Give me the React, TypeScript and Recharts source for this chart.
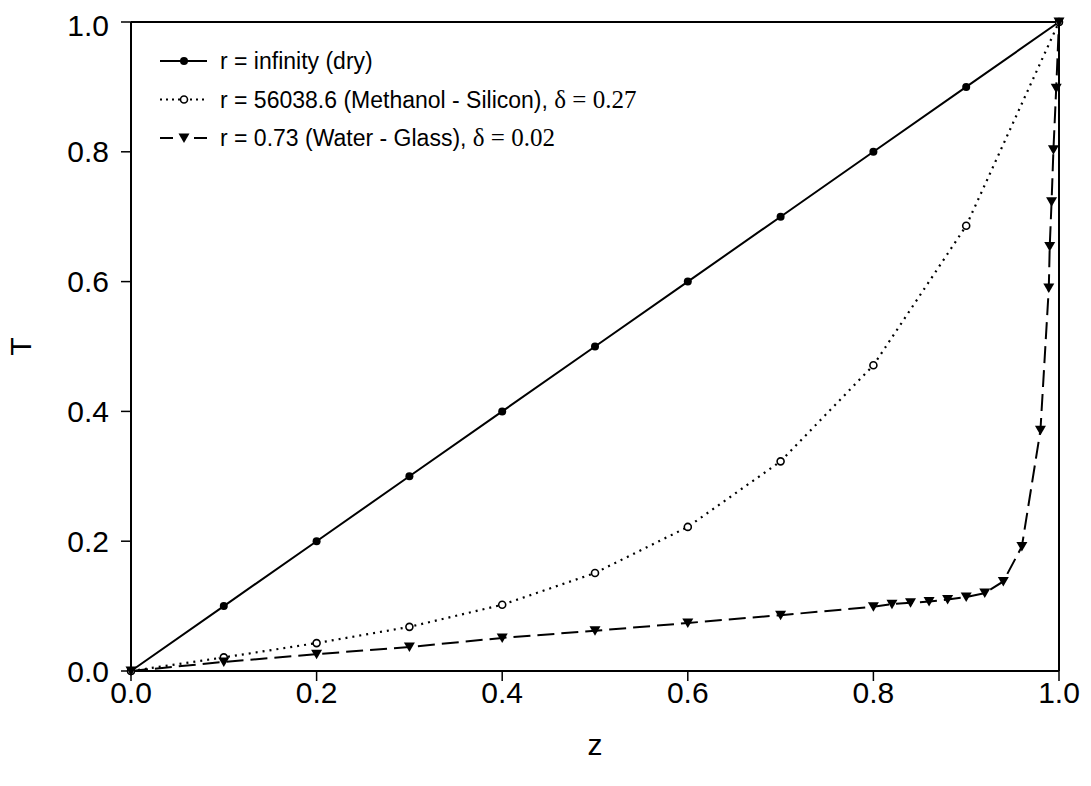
import React from 'react';
import { LineChart, Line, XAxis, YAxis, Legend, ReferenceLine } from 'recharts';

// r = infinity (dry)
const zDry = [0, 0.1, 0.2, 0.3, 0.4, 0.5, 0.6, 0.7, 0.8, 0.9, 1.0];
const tDry = [0, 0.1, 0.2, 0.3, 0.4, 0.5, 0.6, 0.7, 0.8, 0.9, 1.0];

// r = 56038.6 (Methanol - Silicon)
const zMethanol = [0, 0.1, 0.2, 0.3, 0.4, 0.5, 0.6, 0.7, 0.8, 0.9, 1.0];
const tMethanol = [0, 0.021, 0.043, 0.068, 0.102, 0.151, 0.222, 0.323, 0.471, 0.686, 1.0];

// r = 0.73 (Water - Glass)
const zWater = [
  0, 0.1, 0.2, 0.3, 0.4, 0.5, 0.6, 0.7, 0.8, 0.82, 0.84, 0.86, 0.88, 0.9, 0.92, 0.94, 0.96,
  0.98, 0.989, 0.99, 0.992, 0.994, 0.997, 1.0,
];
const tWater = [
  0, 0.014, 0.026, 0.037, 0.051, 0.062, 0.074, 0.086, 0.099, 0.103, 0.105, 0.107, 0.11, 0.114,
  0.12, 0.138, 0.192, 0.371, 0.59, 0.654, 0.723, 0.803, 0.898, 1.0,
];

const xTicks = [0, 0.2, 0.4, 0.6, 0.8, 1.0];
const yTicks = [0, 0.2, 0.4, 0.6, 0.8, 1.0];

const legendLabels = ['r = infinity (dry)', 'r = 56038.6 (Methanol - Silicon), ', 'r = 0.73 (Water - Glass), '];
const legendDeltas = ['', '\u03b4 = 0.27', '\u03b4 = 0.02'];

const pts = (zs: number[], ts: number[]) => zs.map((z, i) => ({ z, T: ts[i] }));

const SANS = '"Liberation Sans", Arial, sans-serif';
const SERIF = '"Liberation Serif", "Times New Roman", serif';

const filledDot = (p: any) => <circle key={p.index} cx={p.cx} cy={p.cy} r={4} fill="#000" />;
const openDot = (p: any) => (
  <circle key={p.index} cx={p.cx} cy={p.cy} r={3.5} fill="#fff" stroke="#000" strokeWidth={1.6} />
);
const triDot = (p: any) => (
  <path
    key={p.index}
    d={`M${p.cx - 5.5},${p.cy - 4.5}L${p.cx + 5.5},${p.cy - 4.5}L${p.cx},${p.cy + 5}Z`}
    fill="#000"
  />
);

function LegendBox() {
  const rows = [18, 56.5, 95];
  return (
    <svg width={720} height={112} style={{ display: 'block' }}>
      {/* solid + filled circle */}
      <line x1={2} x2={49} y1={rows[0]} y2={rows[0]} stroke="#000" strokeWidth={2} />
      <circle cx={26} cy={rows[0]} r={4} fill="#000" />
      {/* dotted + open circle */}
      <line x1={2} x2={49} y1={rows[1]} y2={rows[1]} stroke="#000" strokeWidth={2} strokeDasharray="2 4" />
      <circle cx={26} cy={rows[1]} r={3.5} fill="#fff" stroke="#000" strokeWidth={1.6} />
      {/* dashed + triangle */}
      <line x1={2} x2={15} y1={rows[2]} y2={rows[2]} stroke="#000" strokeWidth={2} />
      <line x1={36} x2={49} y1={rows[2]} y2={rows[2]} stroke="#000" strokeWidth={2} />
      <path d={`M20.5,${rows[2] - 4.5}L31.5,${rows[2] - 4.5}L26,${rows[2] + 5}Z`} fill="#000" />
      {legendLabels.map((lab, i) => (
        <text key={i} x={62} y={rows[i] + 8} fontSize={23} fontFamily={SANS} fill="#000">
          {lab}
          {legendDeltas[i] && (
            <tspan fontFamily={SERIF} fontSize={25}>
              {legendDeltas[i]}
            </tspan>
          )}
        </text>
      ))}
    </svg>
  );
}

export default function App() {
  const tickStyle = { fontSize: 30, fill: '#000', fontFamily: SANS };
  return (
    <div style={{ width: 1075, height: 770, background: '#fff' }}>
      <LineChart width={1075} height={770} margin={{ top: 14, right: 24, bottom: 0, left: 0 }}>
        <XAxis
          dataKey="z"
          type="number"
          domain={[0, 1]}
          ticks={xTicks}
          allowDuplicatedCategory={false}
          tickFormatter={(v: number) => v.toFixed(1)}
          tick={tickStyle}
          tickSize={10}
          tickMargin={1}
          axisLine={{ stroke: '#000', strokeWidth: 2 }}
          tickLine={{ stroke: '#000', strokeWidth: 1.5 }}
          height={107}
          label={(props: any) => {
            const vb = props.viewBox;
            return (
              <text x={vb.x + vb.width / 2} y={vb.y + 84} textAnchor="middle" fontSize={30} fontFamily={SANS} fill="#000">
                z
              </text>
            );
          }}
        />
        <YAxis
          type="number"
          domain={[0, 1]}
          ticks={yTicks}
          tickFormatter={(v: number) => v.toFixed(1)}
          tick={tickStyle}
          tickSize={10}
          tickMargin={12}
          axisLine={{ stroke: '#000', strokeWidth: 2 }}
          tickLine={{ stroke: '#000', strokeWidth: 1.5 }}
          width={123}
          label={(props: any) => {
            const vb = props.viewBox;
            const cx = vb.x + 23;
            const cy = vb.y + vb.height / 2;
            return (
              <text
                x={cx}
                y={cy}
                transform={`rotate(-90 ${cx} ${cy})`}
                textAnchor="middle"
                fontSize={30}
                fontFamily={SANS}
                fill="#000"
              >
                T
              </text>
            );
          }}
        />
        <ReferenceLine y={1} stroke="#000" strokeWidth={2} />
        <ReferenceLine x={1} stroke="#000" strokeWidth={2} />
        <Legend
          layout="vertical"
          align="center"
          verticalAlign="middle"
          content={() => <LegendBox />}
          wrapperStyle={{ position: 'absolute', left: 150, top: 35, width: 720 }}
        />
        <Line
          data={pts(zDry, tDry)}
          dataKey="T"
          name="dry"
          stroke="#000"
          strokeWidth={2}
          dot={filledDot}
          activeDot={false}
          isAnimationActive={false}
        />
        <Line
          data={pts(zMethanol, tMethanol)}
          dataKey="T"
          name="methanol"
          stroke="#000"
          strokeWidth={2.2}
          strokeDasharray="2 5"
          dot={openDot}
          activeDot={false}
          isAnimationActive={false}
        />
        <Line
          data={pts(zWater, tWater)}
          dataKey="T"
          name="water"
          stroke="#000"
          strokeWidth={2}
          strokeDasharray="17 7"
          dot={triDot}
          activeDot={false}
          isAnimationActive={false}
        />
      </LineChart>
    </div>
  );
}
